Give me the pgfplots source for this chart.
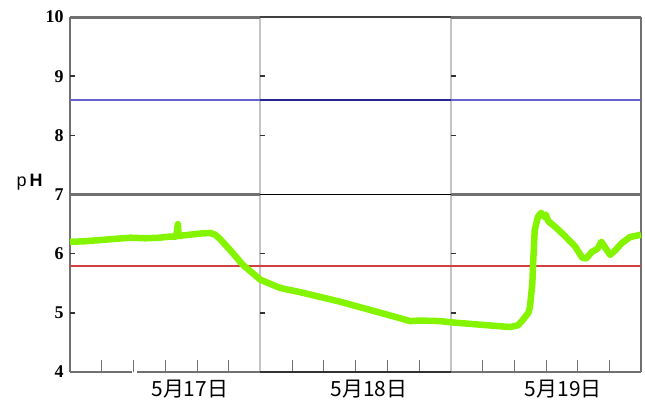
\documentclass[border=0pt]{standalone}
\usepackage{pgfplots}
\pgfplotsset{compat=1.18}
\usepackage{fontspec}
\setmainfont{Liberation Serif}
\newfontfamily\jp{Noto Sans CJK JP}
\setsansfont{Liberation Sans}
\definecolor{phgreen}{HTML}{84F400}
\definecolor{limblueA}{HTML}{6464CC}
\definecolor{limblueB}{HTML}{262690}
\definecolor{limredA}{HTML}{D04040}
\definecolor{boxgray}{HTML}{707070}
\definecolor{divgray}{HTML}{C4C4C4}

\begin{document}
\begin{tikzpicture}
\path (0,0) rectangle (645bp,403bp);
\begin{axis}[
  at={(70bp,31bp)}, anchor=south west,
  scale only axis, width=571bp, height=355bp,
  xmin=0, xmax=72, ymin=4, ymax=10,
  clip=false,
  axis line style={draw=none},
  ytick={4,...,10},
  /pgf/number format/assume math mode=true,
  yticklabel style={font=\fontsize{18}{18}\selectfont\bfseries, xshift=-3bp},
  ytick pos=left, xtick pos=bottom,
  tick align=inside,
  major tick length=12bp,
  y tick style={draw=none},
  xtick={4,8,...,68},
  xticklabels={},
  x tick style={draw=boxgray, line width=0.6pt},
]
% frame and reference lines
\addplot[draw=boxgray, line width=1.3bp, forget plot] coordinates {(0,4) (0,10)};
\addplot[draw=boxgray, line width=1.3bp, forget plot] coordinates {(72,4) (72,10)};
\addplot[draw=divgray, line width=2bp, forget plot] coordinates {(24,4) (24,10)};
\addplot[draw=divgray, line width=2bp, forget plot] coordinates {(48,4) (48,10)};
\addplot[draw=boxgray, line width=3bp, forget plot] coordinates {(0,10) (24,10)};
\addplot[draw=black!75, line width=1.6bp, forget plot] coordinates {(24,10) (48,10)};
\addplot[draw=boxgray, line width=3bp, forget plot] coordinates {(48,10) (72,10)};
\addplot[draw=boxgray, line width=2.5bp, forget plot] coordinates {(0,7) (24,7)};
\addplot[draw=black, line width=1.3bp, forget plot] coordinates {(24,7) (48,7)};
\addplot[draw=boxgray, line width=2.5bp, forget plot] coordinates {(48,7) (72,7)};
\addplot[draw=boxgray, line width=2.5bp, forget plot] coordinates {(0,4) (7.8,4)};
\addplot[draw=boxgray, line width=2.5bp, forget plot] coordinates {(8.5,4) (24,4)};
\addplot[draw=black!80, line width=1.6bp, forget plot] coordinates {(24,4) (48,4)};
\addplot[draw=boxgray, line width=2.5bp, forget plot] coordinates {(48,4) (72,4)};
\addplot[draw=limblueA, line width=1.8bp, forget plot] coordinates {(0,8.6) (24,8.6)};
\addplot[draw=limblueB, line width=1.5bp, forget plot] coordinates {(24,8.6) (48,8.6)};
\addplot[draw=limblueA, line width=1.8bp, forget plot] coordinates {(48,8.6) (72,8.6)};
\addplot[draw=limredA, line width=2bp, forget plot] coordinates {(0,5.8) (72,5.8)};
% pH record
\addplot[draw=phgreen, line width=6.5bp, line join=round] coordinates {
(0,6.20) (1.9,6.21) (3.8,6.23) (5.7,6.25) (7.6,6.27) (9.5,6.26) (11.3,6.27)
(12.6,6.29) (13.4,6.29) (13.6,6.50) (13.7,6.30) (15.1,6.32) (16.4,6.34)
(17.7,6.35) (18.3,6.32) (18.9,6.25) (20.2,6.06) (21.8,5.81) (24.0,5.56)
(26.5,5.42) (29.0,5.35) (31.5,5.27) (34.0,5.19) (37.8,5.05) (41.6,4.91)
(42.9,4.86) (44.1,4.87) (46.7,4.86) (48.0,4.84) (51.7,4.80) (55.5,4.76)
(56.5,4.79) (57.1,4.88) (57.8,5.00) (58.0,5.10) (58.3,5.50) (58.4,5.84)
(58.6,6.40) (59.0,6.62) (59.4,6.69) (59.8,6.62) (60.0,6.66) (60.3,6.55)
(61.2,6.45) (62.4,6.30) (63.7,6.12) (64.6,5.93) (65.1,5.92) (65.8,6.03)
(66.5,6.08) (67.0,6.20) (67.5,6.10) (68.1,5.98) (68.7,6.05) (69.6,6.18)
(70.6,6.28) (72.0,6.32)
};
% small level marks at the left edge and beside the day dividers
\draw[black!80, line width=1.4bp] (axis cs:0,5) -- ++(5bp,0bp);
\draw[black!80, line width=1.4bp] (axis cs:0,6) -- ++(5bp,0bp);
\draw[black!80, line width=1.4bp] (axis cs:0,8) -- ++(5bp,0bp);
\draw[black!80, line width=1.4bp] (axis cs:0,9) -- ++(5bp,0bp);
\draw[black!80, line width=1.4bp] (axis cs:24,5) -- ++(5bp,0bp);
\draw[black!80, line width=1.4bp] (axis cs:24,6) -- ++(5bp,0bp);
\draw[black!80, line width=1.4bp] (axis cs:24,8) -- ++(5bp,0bp);
\draw[black!80, line width=1.4bp] (axis cs:24,9) -- ++(5bp,0bp);
\draw[black!80, line width=1.4bp] (axis cs:48,5) -- ++(5bp,0bp);
\draw[black!80, line width=1.4bp] (axis cs:48,6) -- ++(5bp,0bp);
\draw[black!80, line width=1.4bp] (axis cs:48,8) -- ++(5bp,0bp);
\draw[black!80, line width=1.4bp] (axis cs:48,9) -- ++(5bp,0bp);
% day labels
\node[font=\jp\fontsize{21}{21}\selectfont] at ([yshift=-17bp]axis cs:15.1,4) {5月17日};
\node[font=\jp\fontsize{21}{21}\selectfont] at ([yshift=-17bp]axis cs:37.7,4) {5月18日};
\node[font=\jp\fontsize{21}{21}\selectfont] at ([yshift=-17bp]axis cs:62.2,4) {5月19日};
\node[font=\sffamily\fontsize{18}{18}\selectfont, anchor=east] at ([xshift=-24bp,yshift=12bp]axis cs:0,7) {p\,\textbf{H}};
\end{axis}
\end{tikzpicture}
\end{document}
